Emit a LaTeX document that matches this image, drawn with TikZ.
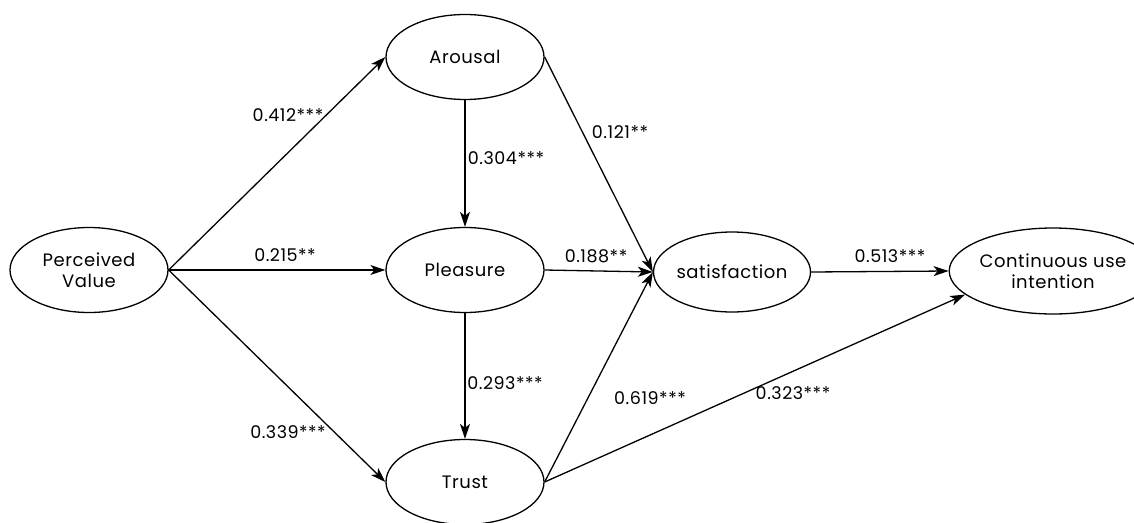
\documentclass[tikz,border=0pt]{standalone}
\usepackage{fontspec}
\setmainfont{Poppins}[LetterSpace=3]
\usetikzlibrary{shapes.geometric,arrows.meta}
\begin{document}
\begin{tikzpicture}[x=1pt,y=-1pt,
  lv/.style={ellipse,draw,line width=1.3pt,minimum width=158pt,minimum height=85pt,inner sep=0pt,align=center,font=\fontsize{18}{21}\selectfont},
  conn/.style={line width=1.3pt,-{Stealth[length=15pt,width=10pt,inset=4pt]}},
  coef/.style={font=\fontsize{17.5}{20}\selectfont,inner sep=1pt}]
\useasboundingbox (0,0) rectangle (1134,522);
\node[lv] (pv) at (89,270) {Perceived\\Value};
\node[lv] (ar) at (465,57) {Arousal};
\node[lv] (pl) at (465,270) {Pleasure};
\node[lv] (tr) at (465,482) {Trust};
\node[lv,minimum width=157pt,minimum height=80pt] (sa) at (732,272) {satisfaction};
\node[lv,minimum width=154pt,minimum height=86pt] (cu) at (1053,271) {Continuous use\\intention};
\draw[conn] (pv.east) -- (ar.west);
\draw[conn] (pv.east) -- (pl.west);
\draw[conn] (pv.east) -- (tr.west);
\draw[conn] (ar.south) -- (pl.north);
\draw[conn] (pl.south) -- (tr.north);
\draw[conn] (ar.east) -- (sa.west);
\draw[conn] (pl.east) -- (sa.west);
\draw[conn] (tr.east) -- (sa.west);
\draw[conn] (sa.east) -- (cu.west);
\draw[conn] (tr.east) -- (cu.195);
\node[coef] (c1) at (288,115) {0.412***};
\node[coef] (c2) at (506,158) {0.304***};
\node[coef] (c3) at (620,132) {0.121**};
\node[coef] (c4) at (285,255) {0.215**};
\node[coef] (c5) at (596,256) {0.188**};
\node[coef] (c6) at (890,256) {0.513***};
\node[coef] (c7) at (505,383) {0.293***};
\node[coef] (c8) at (650,398) {0.619***};
\node[coef] (c9) at (793,393) {0.323***};
\node[coef] (c10) at (288,432) {0.339***};
\end{tikzpicture}
\end{document}
